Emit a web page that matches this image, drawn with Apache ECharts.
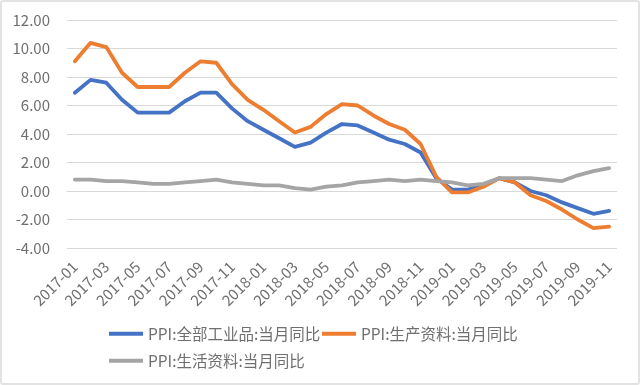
<!DOCTYPE html>
<html>
<head>
<meta charset="utf-8">
<script src="https://cdn.jsdelivr.net/npm/echarts@6/dist/echarts.min.js"></script>
<style>
html,body{margin:0;padding:0;background:#fff;}
#wrap{position:absolute;left:0;top:0;width:636px;height:381px;border:2px solid #e3e3e3;border-radius:3px;}
#chart{position:absolute;left:-2px;top:-2px;width:640px;height:385px;}
</style>
</head>
<body>
<div id="wrap"><div id="chart"></div></div>
<script>
const categories = [
  '2017-01','2017-02','2017-03','2017-04','2017-05','2017-06','2017-07','2017-08','2017-09','2017-10','2017-11','2017-12',
  '2018-01','2018-02','2018-03','2018-04','2018-05','2018-06','2018-07','2018-08','2018-09','2018-10','2018-11','2018-12',
  '2019-01','2019-02','2019-03','2019-04','2019-05','2019-06','2019-07','2019-08','2019-09','2019-10','2019-11'
];
const seriesNames = ['PPI:全部工业品:当月同比', 'PPI:生产资料:当月同比', 'PPI:生活资料:当月同比'];
const allIndustry = [6.9,7.8,7.6,6.4,5.5,5.5,5.5,6.3,6.9,6.9,5.8,4.9,
  4.3,3.7,3.1,3.4,4.1,4.7,4.6,4.1,3.6,3.3,2.7,0.9,
  0.1,0.1,0.4,0.9,0.6,0.0,-0.3,-0.8,-1.2,-1.6,-1.4];
const producerGoods = [9.1,10.4,10.1,8.3,7.3,7.3,7.3,8.3,9.1,9.0,7.5,6.4,
  5.7,4.9,4.1,4.5,5.4,6.1,6.0,5.3,4.7,4.3,3.3,1.0,
  -0.1,-0.1,0.3,0.9,0.6,-0.3,-0.7,-1.3,-2.0,-2.6,-2.5];
const consumerGoods = [0.8,0.8,0.7,0.7,0.6,0.5,0.5,0.6,0.7,0.8,0.6,0.5,
  0.4,0.4,0.2,0.1,0.3,0.4,0.6,0.7,0.8,0.7,0.8,0.7,
  0.6,0.4,0.5,0.9,0.9,0.9,0.8,0.7,1.1,1.4,1.6];
const yMin = -4, yMax = 12, yInterval = 2;

const colors = ['#4472C4', '#ED7D31', '#A5A5A5'];
const font = '"Noto Sans CJK SC", "Noto Sans", sans-serif';
const textColor = '#6f6f6f';

const chart = echarts.init(document.getElementById('chart'), null, {renderer: 'canvas'});
const mkSeries = (name, data, color) => ({
  name: name, type: 'line', data: data, symbol: 'none', smooth: false,
  lineStyle: {color: color, width: 3.8, cap: 'round', join: 'round'},
  itemStyle: {color: color}
});
const mkLegend = (name, left, top) => ({
  data: [name], left: left, top: top, padding: 0, icon: 'rect', itemWidth: 34, itemHeight: 4, itemGap: 0,
  textStyle: {fontFamily: font, fontSize: 15.5, color: textColor}
});
chart.setOption({
  animation: false,
  color: colors,
  grid: {left: 67, right: 23, top: 20, bottom: 137, containLabel: false},
  legend: [
    mkLegend(seriesNames[0], 109, 326),
    mkLegend(seriesNames[1], 322, 326),
    mkLegend(seriesNames[2], 109, 353)
  ],
  xAxis: {
    type: 'category', data: categories, boundaryGap: true,
    axisLine: {show: true, lineStyle: {color: '#d9d9d9', width: 1}},
    axisTick: {show: false},
    axisLabel: {interval: 1, rotate: 45, margin: 16, fontFamily: font, fontSize: 15, color: textColor}
  },
  yAxis: {
    type: 'value', min: yMin, max: yMax, interval: yInterval,
    axisLine: {show: false}, axisTick: {show: false},
    splitLine: {lineStyle: {color: '#d9d9d9', width: 1}},
    axisLabel: {margin: 17, fontFamily: font, fontSize: 15, color: textColor, formatter: v => v.toFixed(2)}
  },
  series: [
    mkSeries(seriesNames[0], allIndustry, colors[0]),
    mkSeries(seriesNames[1], producerGoods, colors[1]),
    mkSeries(seriesNames[2], consumerGoods, colors[2])
  ]
});
</script>
</body>
</html>
